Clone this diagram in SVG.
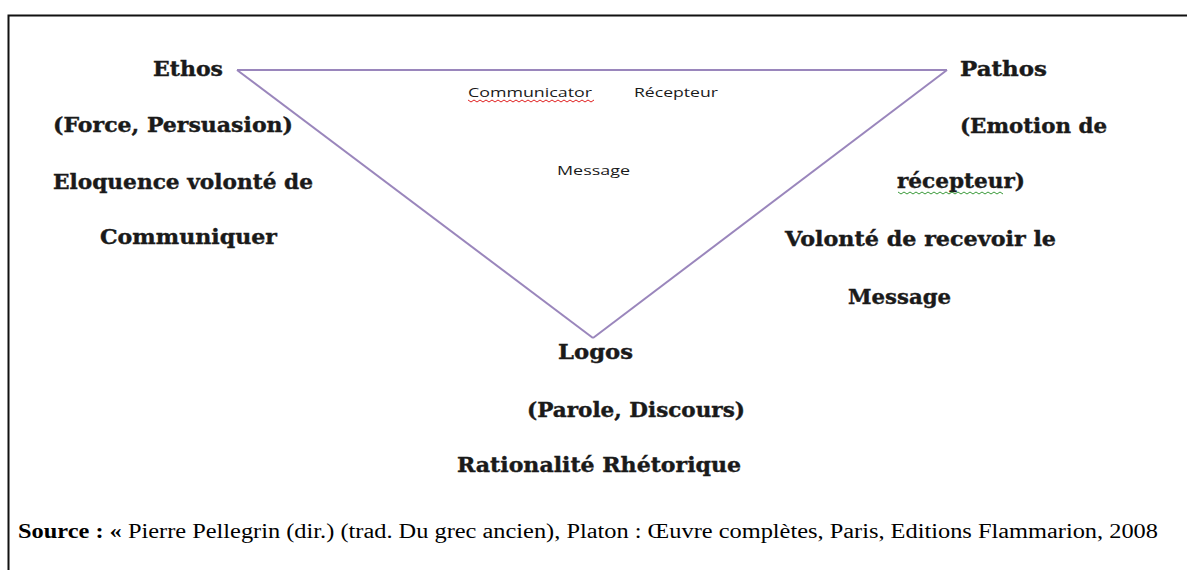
<svg xmlns="http://www.w3.org/2000/svg" width="1187" height="570" viewBox="0 0 1187 570">
<style>
.b{font-family:"DejaVu Serif","Liberation Serif",serif;font-weight:bold;font-size:21px;fill:#1a1a1a;stroke:#1a1a1a;stroke-width:0.4}
.s{font-family:"Open Sans","Liberation Sans",sans-serif;font-size:12px;fill:#1a1a1a}
.src{font-family:"Liberation Serif","Times New Roman",serif;font-size:20px;fill:#000}
.edge{stroke:#9a86bc;stroke-width:2;fill:none}
</style>
<rect width="1187" height="570" fill="#fff"/>
<path d="M8.5,570 V15.5 H1187" fill="none" stroke="#111" stroke-width="2"/>
<g id="connectors">
<line class="edge" x1="237" y1="70" x2="947" y2="70"/>
<line class="edge" x1="237" y1="70" x2="593" y2="338"/>
<line class="edge" x1="947" y1="70" x2="593" y2="338"/>
</g>
<g id="ethos">
<text class="b" x="153" y="76" textLength="70" lengthAdjust="spacingAndGlyphs">Ethos</text>
<text class="b" x="53" y="132" textLength="240" lengthAdjust="spacingAndGlyphs">(Force, Persuasion)</text>
<text class="b" x="53" y="189" textLength="260" lengthAdjust="spacingAndGlyphs">Eloquence volonté de</text>
<text class="b" x="100" y="244" textLength="177" lengthAdjust="spacingAndGlyphs">Communiquer</text>
</g>
<g id="pathos">
<text class="b" x="960" y="76" textLength="87" lengthAdjust="spacingAndGlyphs">Pathos</text>
<text class="b" x="960" y="133" textLength="147" lengthAdjust="spacingAndGlyphs">(Emotion de</text>
<text class="b" x="897" y="188" textLength="128" lengthAdjust="spacingAndGlyphs">récepteur)</text>
<path d="M898,192 l3,2 3,-2 3,2 3,-2 3,2 3,-2 3,2 3,-2 3,2 3,-2 3,2 3,-2 3,2 3,-2 3,2 3,-2 3,2 3,-2 3,2 3,-2 3,2 3,-2 3,2 3,-2 3,2 3,-2 3,2 3,-2 3,2 3,-2 3,2 3,-2 3,2 3,-2 3,2" fill="none" stroke="#3a9a3a" stroke-width="1"/>
<text class="b" x="785" y="246" textLength="271" lengthAdjust="spacingAndGlyphs">Volonté de recevoir le</text>
<text class="b" x="848" y="304" textLength="103" lengthAdjust="spacingAndGlyphs">Message</text>
</g>
<g id="logos">
<text class="b" x="558" y="359" textLength="75" lengthAdjust="spacingAndGlyphs">Logos</text>
<text class="b" x="527" y="417" textLength="218" lengthAdjust="spacingAndGlyphs">(Parole, Discours)</text>
<text class="b" x="457" y="472" textLength="284" lengthAdjust="spacingAndGlyphs">Rationalité Rhétorique</text>
</g>
<g id="inner">
<text class="s" x="468" y="97" textLength="124" lengthAdjust="spacingAndGlyphs">Communicator</text>
<path d="M468,100 l3,2 3,-2 3,2 3,-2 3,2 3,-2 3,2 3,-2 3,2 3,-2 3,2 3,-2 3,2 3,-2 3,2 3,-2 3,2 3,-2 3,2 3,-2 3,2 3,-2 3,2 3,-2 3,2 3,-2 3,2 3,-2 3,2 3,-2 3,2 3,-2 3,2 3,-2 3,2 3,-2 3,2 3,-2 3,2 3,-2 3,2 3,-2" fill="none" stroke="#e02020" stroke-width="1"/>
<text class="s" x="634" y="97" textLength="84" lengthAdjust="spacingAndGlyphs">Récepteur</text>
<text class="s" x="557" y="175" textLength="73" lengthAdjust="spacingAndGlyphs">Message</text>
</g>
<g id="source">
<text class="src" x="18" y="538" textLength="1140" lengthAdjust="spacingAndGlyphs"><tspan font-weight="bold">Source : «</tspan> Pierre Pellegrin (dir.) (trad. Du grec ancien), Platon : Œuvre complètes, Paris, Editions Flammarion, 2008</text>
</g>
</svg>
